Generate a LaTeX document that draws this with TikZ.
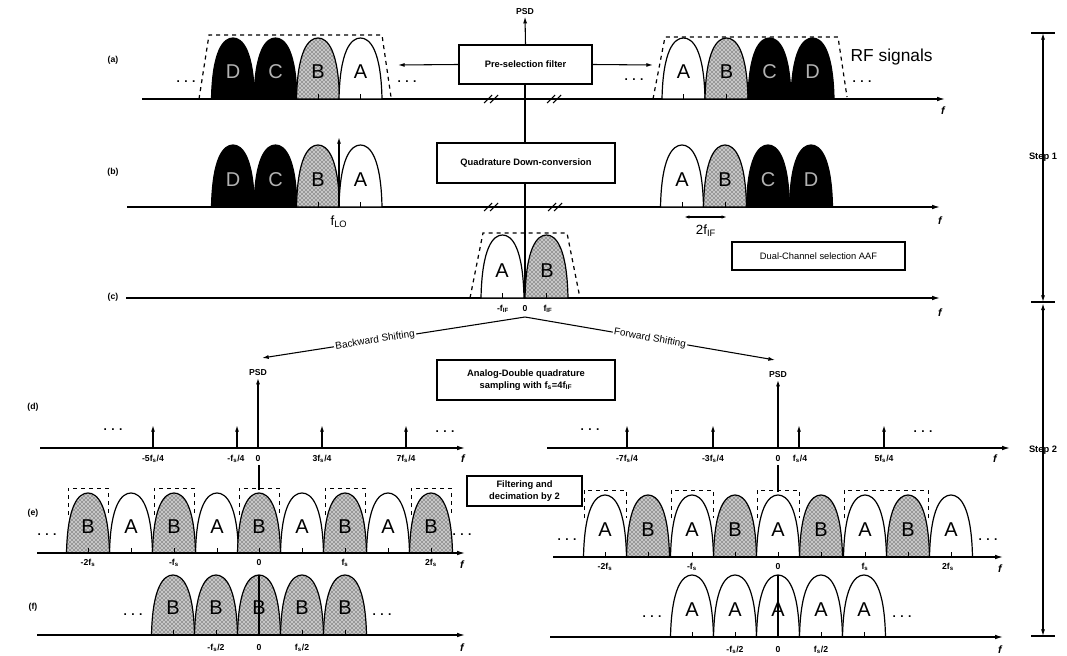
\documentclass[tikz,border=0pt]{standalone}
\usepackage{fontspec}
\setmainfont{Liberation Sans}
\usetikzlibrary{arrows.meta,patterns}
\newcommand{\lobe}[4]{%
  \path[#1] ({#2-21.5},#3) .. controls ({#2-20.5},{#3-0.8*#4}) and ({#2-9.5},{#3-#4}) .. (#2,{#3-#4})
     .. controls ({#2+9.5},{#3-#4}) and ({#2+20.5},{#3-0.8*#4}) .. ({#2+21.5},#3) -- cycle;
  \draw[line width=0.6pt] (#2,#3) -- (#2,{#3-5});}
\newcommand{\brk}[2]{\draw[line width=0.8pt] ({#1-8},{#2+4})--({#1},{#2-4}) ({#1-2},{#2+4})--({#1+6},{#2-4});}
\begin{document}
\begin{tikzpicture}[x=0.75pt,y=-0.75pt,
  ax/.style={line width=0.9pt,-{Latex[length=6pt,width=3.5pt]}},
  arr/.style={line width=0.8pt,-{Latex[length=5pt,width=3pt]}},
  imp/.style={line width=1pt,-{Latex[length=5pt,width=3pt]}},
  blk/.style={draw,line width=1.3pt,fill=white,inner sep=0pt,align=center,font=\fontsize{7}{9}\selectfont\bfseries},
  lbl/.style={font=\fontsize{6.5}{7}\selectfont\bfseries,inner sep=1pt},
  stp/.style={font=\fontsize{7}{8}\selectfont\bfseries,inner sep=1pt},
  fl/.style={font=\fontsize{8}{8}\selectfont\bfseries\itshape,inner sep=1pt},
  big/.style={font=\fontsize{15}{15}\selectfont,inner sep=0pt},
  mid/.style={font=\fontsize{10}{10}\selectfont,inner sep=1pt},
  shf/.style={font=\fontsize{7.5}{9}\selectfont,fill=white,inner sep=1pt,sloped},
  lobeA/.style={draw,line width=0.9pt,fill=white},
  lobeB/.style={draw,line width=0.9pt,preaction={fill=gray!45},pattern=crosshatch dots},
  lobeC/.style={draw,line width=0.9pt,fill=black},
  env/.style={dashed,line width=0.9pt},
  dots/.style={font=\fontsize{9}{9}\selectfont\bfseries,inner sep=0pt}
]
\useasboundingbox (0,0) rectangle (1067,656);

% ================= row (a) =================
\node[lbl] (la) at (113,60) {(a)};
\draw[ax] (142,99) -- (945,99);
\node[fl] at (943,111) {f};
\foreach \c/\s/\t/\col in {233/lobeC/D/gray!60,275.5/lobeC/C/gray!60,318/lobeB/B/black,360.5/lobeA/A/black}{
  \lobe{\s}{\c}{99}{61}
  \node[big,text=\col] at (\c,72) {\t};}
\foreach \c/\s/\t/\col in {683.5/lobeA/A/black,726.5/lobeB/B/black,769.5/lobeC/C/gray!60,812.5/lobeC/D/gray!60}{
  \lobe{\s}{\c}{99}{61}
  \node[big,text=\col] at (\c,72) {\t};}
\draw[env] (199,99) -- (209,35) -- (382,35) -- (391,97);
\draw[env] (653,99) -- (665,37) -- (838,37) -- (847,97);
\node[dots] at (186,82) {. . .};
\node[dots] at (407,82) {. . .};
\node[dots] at (634,80) {. . .};
\node[dots] at (862,82) {. . .};
\node[font=\fontsize{13}{13}\selectfont,anchor=west] (rf) at (846,57) {RF signals};
\brk{492}{99}\brk{555}{99}

\node[blk,minimum width=99.75pt,minimum height=29.25pt] (pre) at (525.5,64.5) {Pre-selection filter};
\node[lbl] (psd0) at (525,12) {PSD};
\draw[arr] (pre.north) -- (psd0.south);
\coordinate (preL) at (398,65);
\coordinate (preR) at (653,65);
\draw[arr] (pre.west) -- (preL);
\draw[arr] (pre.east) -- (preR);

% ================= row (b) =================
\node[lbl] (lb) at (113,172) {(b)};
\draw[ax] (127,207) -- (940,207);
\node[fl] at (940,221) {f};
\foreach \c/\s/\t/\col in {233/lobeC/D/gray!60,275.5/lobeC/C/gray!60,318/lobeB/B/black,360.5/lobeA/A/black}{
  \lobe{\s}{\c}{207}{62}
  \node[big,text=\col] at (\c,180) {\t};}
\foreach \c/\s/\t/\col in {682/lobeA/A/black,725/lobeB/B/black,768/lobeC/C/gray!60,811/lobeC/D/gray!60}{
  \lobe{\s}{\c}{207}{62}
  \node[big,text=\col] at (\c,180) {\t};}
\node[mid] (flo) at (339,222) {f\textsubscript{LO}};
\coordinate (lo0) at (339,207);
\coordinate (lo1) at (339,137);
\draw[imp] (lo0) -- (lo1);
\coordinate (if0) at (684,217);
\coordinate (if1) at (727,217);
\draw[line width=0.8pt,{Latex[length=4pt,width=2.5pt]}-{Latex[length=4pt,width=2.5pt]}] (if0) -- (if1);
\node[mid] at (706,231) {2f\textsubscript{IF}};
\brk{492}{207}\brk{556}{207}

\node[blk,minimum width=133.5pt,minimum height=30pt] (quad) at (526,163) {Quadrature Down-conversion};
\draw[line width=0.9pt] (pre.south -| 525,0) -- (quad.north -| 525,0);
\coordinate (c0) at (525,298);
\draw[line width=0.9pt] (quad.south -| 525,0) -- (c0);

% ================= row (c) =================
\node[lbl] (lc) at (113,297) {(c)};
\draw[ax] (126,298) -- (940,298);
\node[fl] at (940,313) {f};
\lobe{lobeA}{502.5}{298}{63}
\lobe{lobeB}{546.5}{298}{63}
\node[big] at (502,271) {A};
\node[big] at (547,271) {B};
\draw[env] (470,298) -- (483,233) -- (567,233) -- (580,298);
\node[lbl] at (503,309) {-f\textsubscript{IF}};
\node[lbl] at (525,309) {0};
\node[lbl] at (548,309) {f\textsubscript{IF}};
\node[blk,minimum width=129.75pt,minimum height=21pt] (aaf) at (818.5,256) {\mdseries Dual-Channel selection AAF};

% shifting
\coordinate (apex) at (525,317);
\coordinate (bL) at (262,358);
\coordinate (bR) at (775,360);
\draw[arr] (apex) -- node[shf,pos=0.57] {Backward Shifting} (bL);
\draw[arr] (apex) -- node[shf,pos=0.5] {Forward Shifting} (bR);

\node[blk,minimum width=133.5pt,minimum height=30pt] (ads) at (526,380) {Analog-Double quadrature\\sampling with f\textsubscript{s}=4f\textsubscript{IF}};

% ================= row (d) =================
\node[lbl] (ld) at (33,407) {(d)};
\draw[ax] (40,448) -- (465,448);
\node[fl] at (463,459) {f};
\node[lbl] (psdL) at (258,373) {PSD};
\coordinate (dL0) at (258,448);
\draw[imp] (dL0) -- (psdL.south);
\foreach \x in {153,237,322,406}{\draw[imp] (\x,448) -- (\x,425);}
\node[lbl] at (153,459) {-5f\textsubscript{s}/4};
\node[lbl] at (236,459) {-f\textsubscript{s}/4};
\node[lbl] at (258,459) {0};
\node[lbl] at (322,459) {3f\textsubscript{s}/4};
\node[lbl] at (406,459) {7f\textsubscript{s}/4};
\node[dots] at (113,430) {. . .};
\node[dots] at (445,432) {. . .};

\draw[ax] (547,448) -- (1010,448);
\node[fl] at (995,459) {f};
\node[lbl] (psdR) at (778,375) {PSD};
\coordinate (dR0) at (778,448);
\draw[imp] (dR0) -- (psdR.south);
\foreach \x in {627,713,799,884}{\draw[imp] (\x,448) -- (\x,425);}
\node[lbl] at (627,459) {-7f\textsubscript{s}/4};
\node[lbl] at (713,459) {-3f\textsubscript{s}/4};
\node[lbl] at (778,459) {0};
\node[lbl] at (800,459) {f\textsubscript{s}/4};
\node[lbl] at (884,459) {5f\textsubscript{s}/4};
\node[dots] at (590,430) {. . .};
\node[dots] at (923,432) {. . .};

\node[blk,minimum width=86.25pt,minimum height=22.5pt] (filt) at (524.5,491) {Filtering and\\decimation by 2};

% ================= row (e) =================
\node[lbl] (le) at (33,513) {(e)};
\coordinate (eL0) at (259,465);
\coordinate (eL1) at (259,490);
\draw[line width=0.8pt] (eL0) -- (eL1);
\foreach \c in {131,217,302,388}{\lobe{lobeA}{\c}{553}{60}\node[big] at (\c,527) {A};}
\foreach \c in {88,174,259,345,431}{\lobe{lobeB}{\c}{553}{60}\node[big] at (\c,527) {B};
  \draw[dashed,line width=0.6pt] ({\c-20},515) -- ({\c-20},488) -- ({\c+20},488) -- ({\c+20},515);}
\draw[ax] (37,553) -- (465,553);
\node[fl] at (462,565) {f};
\node[lbl] at (88,563) {-2f\textsubscript{s}};
\node[lbl] at (174,563) {-f\textsubscript{s}};
\node[lbl] at (259,563) {0};
\node[lbl] at (345,563) {f\textsubscript{s}};
\node[lbl] at (431,563) {2f\textsubscript{s}};
\node[dots] at (47,535) {. . .};
\node[dots] at (462,535) {. . .};

\coordinate (eR0) at (778,465);
\coordinate (eR1) at (778,492);
\draw[line width=0.8pt] (eR0) -- (eR1);
\foreach \c in {648,735,821,908}{\lobe{lobeB}{\c}{557}{62}\node[big] at (\c,530) {B};}
\foreach \c in {605,692,778,865,951}{\lobe{lobeA}{\c}{557}{62}\node[big] at (\c,530) {A};}
\foreach \c in {605,692,778}{\draw[dashed,line width=0.6pt] ({\c-21},518) -- ({\c-21},490) -- ({\c+21},490) -- ({\c+21},518);}
\draw[dashed,line width=0.6pt] (844,518) -- (844,490) -- (928,490) -- (928,518);
\draw[ax] (553,557) -- (1003,557);
\node[fl] at (1000,569) {f};
\node[lbl] at (605,567) {-2f\textsubscript{s}};
\node[lbl] at (692,567) {-f\textsubscript{s}};
\node[lbl] at (778,567) {0};
\node[lbl] at (865,567) {f\textsubscript{s}};
\node[lbl] at (948,567) {2f\textsubscript{s}};
\node[dots] at (567,540) {. . .};
\node[dots] at (988,540) {. . .};

% ================= row (f) =================
\node[lbl] (lf) at (33,607) {(f)};
\foreach \c in {173,216,259,302,345}{\lobe{lobeB}{\c}{635}{60}\node[big] at (\c,608) {B};}
\draw[line width=0.8pt] (259,575) -- (259,635);
\draw[ax] (37,635) -- (465,635);
\node[fl] at (462,648) {f};
\node[lbl] at (216,648) {-f\textsubscript{s}/2};
\node[lbl] at (259,648) {0};
\node[lbl] at (302,648) {f\textsubscript{s}/2};
\node[dots] at (133,615) {. . .};
\node[dots] at (382,615) {. . .};

\foreach \c in {692,735,778,821,864}{\lobe{lobeA}{\c}{637}{62}\node[big] at (\c,610) {A};}
\draw[line width=0.8pt] (778,575) -- (778,637);
\draw[ax] (550,637) -- (1003,637);
\node[fl] at (1000,650) {f};
\node[lbl] at (735,650) {-f\textsubscript{s}/2};
\node[lbl] at (778,650) {0};
\node[lbl] at (821,650) {f\textsubscript{s}/2};
\node[dots] at (652,617) {. . .};
\node[dots] at (902,617) {. . .};

% ================= steps =================
\node[stp] (s1) at (1043,157) {Step 1};
\node[stp] (s2) at (1043,450) {Step 2};
\coordinate (t0) at (1043,33);
\coordinate (t1) at (1043,302);
\coordinate (t2) at (1043,636);
\draw[line width=0.8pt] (1031,33) -- (1055,33) (1031,302) -- (1055,302) (1031,636) -- (1055,636);
\draw[arr] ([yshift=-8pt]s1.north) -- (t0);
\draw[arr] ([yshift=8pt]s1.south) -- (t1);
\draw[arr] ([yshift=-8pt]s2.north) -- ([yshift=-1pt]t1);
\draw[arr] ([yshift=8pt]s2.south) -- (t2);
\end{tikzpicture}
\end{document}
